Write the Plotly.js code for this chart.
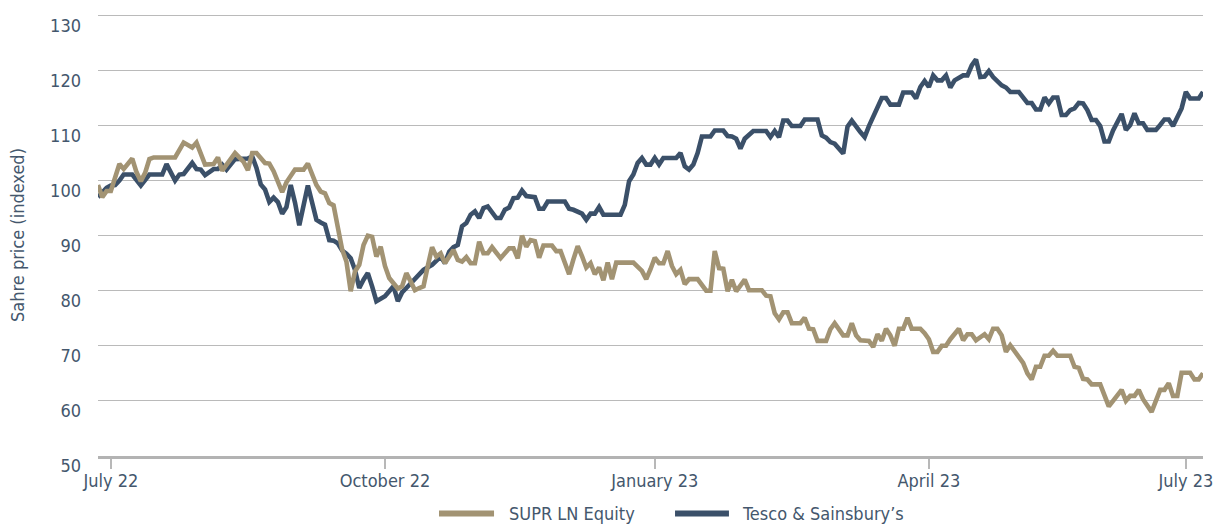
<!DOCTYPE html>
<html>
<head>
<meta charset="utf-8">
<script src="https://cdn.plot.ly/plotly-3.0.1.min.js"></script>
<style>html,body{margin:0;padding:0;background:#ffffff;}</style>
</head>
<body>
<div id="chart" style="width:1215px;height:524px;"></div>
<script>
// ---- Data (trading days, indexed share price) ----
const supr_dates = [
'2022-06-28','2022-06-29','2022-06-30','2022-07-01','2022-07-05','2022-07-06','2022-07-08','2022-07-11','2022-07-12','2022-07-13',
'2022-07-14','2022-07-15','2022-07-22','2022-07-26','2022-07-28','2022-07-29','2022-08-02','2022-08-04','2022-08-05','2022-08-08',
'2022-08-11','2022-08-15','2022-08-16','2022-08-17','2022-08-18','2022-08-22','2022-08-23','2022-08-24','2022-08-26','2022-08-30',
'2022-09-01','2022-09-05','2022-09-06','2022-09-07','2022-09-08','2022-09-09','2022-09-12','2022-09-13','2022-09-14','2022-09-15',
'2022-09-16','2022-09-20','2022-09-21','2022-09-22','2022-09-23','2022-09-26','2022-09-27','2022-09-28','2022-09-29','2022-09-30',
'2022-10-03','2022-10-04','2022-10-05','2022-10-06','2022-10-07','2022-10-10','2022-10-11','2022-10-12','2022-10-13','2022-10-14',
'2022-10-17','2022-10-18','2022-10-19','2022-10-20','2022-10-21','2022-10-24','2022-10-25','2022-10-26','2022-10-27','2022-10-28',
'2022-10-31','2022-11-01','2022-11-02','2022-11-03','2022-11-04','2022-11-07','2022-11-09','2022-11-10','2022-11-11','2022-11-14',
'2022-11-15','2022-11-16','2022-11-17','2022-11-18','2022-11-21','2022-11-22','2022-11-23','2022-11-25','2022-11-28','2022-11-29',
'2022-11-30','2022-12-01','2022-12-02','2022-12-05','2022-12-06','2022-12-07','2022-12-08','2022-12-09','2022-12-12','2022-12-13',
'2022-12-14','2022-12-15','2022-12-16','2022-12-22','2022-12-28','2022-12-29','2022-12-30','2023-01-03','2023-01-04','2023-01-05',
'2023-01-06','2023-01-09','2023-01-10','2023-01-11','2023-01-12','2023-01-13','2023-01-17','2023-01-18','2023-01-19','2023-01-20',
'2023-01-23','2023-01-24','2023-01-25','2023-01-26','2023-01-27','2023-01-30','2023-02-01','2023-02-02','2023-02-07','2023-02-08',
'2023-02-09','2023-02-10','2023-02-13','2023-02-14','2023-02-15','2023-02-16','2023-02-20','2023-02-21','2023-02-22','2023-02-23',
'2023-02-24','2023-02-28','2023-03-01','2023-03-02','2023-03-03','2023-03-06','2023-03-07','2023-03-08','2023-03-09','2023-03-10',
'2023-03-14','2023-03-15','2023-03-16','2023-03-17','2023-03-20','2023-03-21','2023-03-22','2023-03-23','2023-03-24','2023-03-27',
'2023-03-28','2023-03-30','2023-03-31','2023-04-03','2023-04-04','2023-04-05','2023-04-06','2023-04-11','2023-04-12','2023-04-14',
'2023-04-17','2023-04-18','2023-04-19','2023-04-20','2023-04-24','2023-04-25','2023-04-26','2023-04-27','2023-04-28','2023-05-02',
'2023-05-03','2023-05-09','2023-05-10','2023-05-11','2023-05-12','2023-05-15','2023-05-16','2023-05-17','2023-05-18','2023-05-19',
'2023-05-24','2023-05-25','2023-05-26','2023-05-30','2023-05-31','2023-06-01','2023-06-05','2023-06-07','2023-06-12','2023-06-13',
'2023-06-14','2023-06-15','2023-06-16','2023-06-19','2023-06-21','2023-06-23','2023-06-26','2023-06-27','2023-06-28','2023-06-29',
'2023-06-30','2023-07-04','2023-07-05','2023-07-06','2023-07-07'
];
const supr_values = [
99.2,97.0,98.1,98.1,103.0,102.1,104.0,101.5,99.9,101.4,
103.9,104.2,104.2,106.9,106.0,106.9,102.9,103.0,104.2,101.8,
105.0,103.4,101.9,105.0,105.0,103.2,103.1,101.7,97.9,99.7,
102.0,102.0,103.1,101.3,99.2,98.0,97.7,95.9,95.5,91.5,
87.5,85.3,79.9,83.5,84.7,88.3,90.0,89.8,86.2,88.0,
84.5,82.3,81.4,80.4,80.8,83.2,81.7,80.1,80.5,80.8,
84.5,87.9,86.2,86.8,85.0,86.2,87.4,85.6,85.3,86.1,
85.0,85.0,88.9,86.8,86.8,87.9,85.9,86.8,87.7,87.7,
85.9,90.0,88.0,89.2,89.0,86.0,88.2,88.2,87.2,87.2,
85.0,83.0,85.7,88.1,86.3,84.2,85.0,83.0,84.2,81.9,
85.1,82.1,85.1,85.1,83.6,82.1,83.9,86.0,85.0,85.0,
87.2,84.5,83.0,83.8,81.2,82.1,82.1,81.2,80.0,80.0,
87.2,84.1,84.0,79.9,82.0,79.9,82.0,80.1,80.1,79.1,
79.0,75.9,74.8,76.1,76.1,74.1,74.1,75.1,73.1,73.0,
70.9,70.9,73.0,74.1,73.1,71.9,71.9,74.1,71.9,71.0,
70.9,69.8,72.1,70.9,73.1,71.9,70.0,73.1,73.1,75.1,
73.1,73.1,72.3,71.2,68.9,68.9,70.0,70.0,71.2,73.1,
71.0,72.1,72.1,71.0,72.1,71.2,73.1,73.1,71.9,68.9,
70.1,66.9,65.0,63.9,66.2,66.2,68.2,68.2,69.1,68.2,
68.2,66.2,66.0,64.0,63.9,63.0,63.0,59.0,62.0,60.0,
60.9,60.9,62.0,60.3,58.0,62.0,62.0,63.2,60.9,60.9,
65.1,65.1,63.9,63.9,65.0
];

const tesco_dates = [
'2022-06-28','2022-06-30','2022-07-01','2022-07-04','2022-07-05','2022-07-06','2022-07-08','2022-07-12','2022-07-14','2022-07-19',
'2022-07-20','2022-07-22','2022-07-25','2022-07-26','2022-07-28','2022-07-29','2022-08-01','2022-08-02','2022-08-04','2022-08-05',
'2022-08-08','2022-08-09','2022-08-11','2022-08-15','2022-08-16','2022-08-17','2022-08-18','2022-08-19','2022-08-22','2022-08-23',
'2022-08-24','2022-08-25','2022-08-26','2022-08-30','2022-08-31','2022-09-01','2022-09-02','2022-09-06','2022-09-07','2022-09-08',
'2022-09-09','2022-09-12','2022-09-13','2022-09-14','2022-09-15','2022-09-16','2022-09-20','2022-09-21','2022-09-22','2022-09-23',
'2022-09-26','2022-09-27','2022-09-28','2022-09-29','2022-10-03','2022-10-04','2022-10-05','2022-10-06','2022-10-07','2022-10-10',
'2022-10-11','2022-10-12','2022-10-13','2022-10-14','2022-10-18','2022-10-19','2022-10-20','2022-10-21','2022-10-24','2022-10-25',
'2022-10-26','2022-10-27','2022-10-28','2022-10-31','2022-11-01','2022-11-02','2022-11-03','2022-11-04','2022-11-07','2022-11-08',
'2022-11-09','2022-11-10','2022-11-11','2022-11-14','2022-11-15','2022-11-16','2022-11-17','2022-11-21','2022-11-22','2022-11-23',
'2022-11-24','2022-11-30','2022-12-01','2022-12-02','2022-12-06','2022-12-07','2022-12-08','2022-12-09','2022-12-12','2022-12-13',
'2022-12-19','2022-12-20','2022-12-21','2022-12-22','2022-12-23','2022-12-28','2022-12-29','2022-12-30','2023-01-03','2023-01-04',
'2023-01-05','2023-01-10','2023-01-11','2023-01-12','2023-01-13','2023-01-16','2023-01-17','2023-01-18','2023-01-20','2023-01-23',
'2023-01-25','2023-01-26','2023-01-27','2023-01-30','2023-01-31','2023-02-01','2023-02-03','2023-02-08','2023-02-09','2023-02-10',
'2023-02-13','2023-02-14','2023-02-15','2023-02-16','2023-02-20','2023-02-21','2023-02-24','2023-02-27','2023-02-28','2023-03-01',
'2023-03-02','2023-03-06','2023-03-07','2023-03-08','2023-03-10','2023-03-13','2023-03-14','2023-03-16','2023-03-17','2023-03-20',
'2023-03-21','2023-03-23','2023-03-24','2023-03-28','2023-03-29','2023-03-30','2023-03-31','2023-04-03','2023-04-04','2023-04-05',
'2023-04-06','2023-04-11','2023-04-12','2023-04-13','2023-04-17','2023-04-18','2023-04-19','2023-04-20','2023-04-21','2023-04-24',
'2023-04-25','2023-04-26','2023-04-28','2023-05-02','2023-05-03','2023-05-05','2023-05-09','2023-05-10','2023-05-11','2023-05-12',
'2023-05-15','2023-05-16','2023-05-17','2023-05-18','2023-05-19','2023-05-22','2023-05-23','2023-05-24','2023-05-25','2023-05-26',
'2023-05-30','2023-05-31','2023-06-01','2023-06-02','2023-06-05','2023-06-06','2023-06-07','2023-06-08','2023-06-12','2023-06-13',
'2023-06-14','2023-06-15','2023-06-16','2023-06-19','2023-06-20','2023-06-22','2023-06-23','2023-06-26','2023-06-27','2023-06-28',
'2023-06-30','2023-07-03','2023-07-04','2023-07-06','2023-07-07'
];
const tesco_values = [
97.0,98.7,99.1,99.2,100.0,101.1,101.1,99.1,101.1,101.1,
103.0,100.0,101.1,101.2,103.2,102.1,102.0,101.0,102.1,102.1,
102.9,102.0,103.9,104.0,104.0,104.4,102.3,99.3,98.4,96.1,
96.9,96.1,94.0,95.2,99.2,96.0,91.9,99.1,95.9,92.9,
92.4,92.0,89.2,89.1,88.6,87.3,86.7,85.9,83.8,80.5,
82.0,83.2,80.8,78.1,79.0,79.9,80.8,78.1,79.7,80.5,
81.4,82.1,82.9,83.8,84.7,85.6,86.2,85.0,87.1,87.9,
88.3,91.7,92.3,93.8,94.4,93.2,95.0,95.3,94.1,93.2,
93.2,94.7,95.1,96.8,96.9,98.2,97.2,97.0,94.9,94.9,
96.2,96.2,94.9,94.7,94.0,92.9,94.0,94.0,95.2,93.8,
93.8,95.6,99.9,101.1,103.2,104.1,102.9,102.9,104.1,102.9,
104.1,104.1,105.0,102.6,102.0,102.9,105.0,108.0,108.0,109.1,
109.1,108.1,108.0,107.6,105.8,107.6,109.0,109.0,107.9,109.0,
107.9,110.9,110.9,109.9,109.9,111.1,111.1,108.2,107.8,107.0,
106.7,104.9,109.8,110.9,108.8,107.9,109.9,113.4,115.0,115.0,
113.8,113.8,116.0,116.0,114.9,117.0,118.1,117.0,119.1,118.2,
118.2,119.1,116.9,118.2,119.1,119.1,120.9,122.0,118.8,118.9,
119.9,118.8,117.3,116.9,116.1,116.1,115.1,114.1,114.1,112.9,
112.9,115.1,114.0,115.1,115.1,111.9,111.9,112.8,113.1,114.1,
114.0,112.8,111.0,111.0,109.9,107.1,107.1,109.1,112.1,109.2,
110.1,112.2,110.4,110.4,109.2,109.2,110.1,111.1,111.1,109.9,
113.1,116.1,114.9,114.9,116.1
];

const series_names = ['SUPR LN Equity', 'Tesco & Sainsbury\u2019s'];
const tick_dates = ['2022-07-01','2022-10-03','2023-01-03','2023-04-03','2023-07-03'];
const tick_labels = ['July 22','October 22','January 23','April 23','July 23'];
const y_ticks = [50,60,70,80,90,100,110,120,130];
const uk_market_holidays = ['2022-08-29','2022-09-19','2022-12-26','2022-12-27','2023-01-02',
                            '2023-04-07','2023-04-10','2023-05-01','2023-05-08','2023-05-29'];

// ---- Styling ----
const TAN = '#a29373';
const NAVY = '#3b5069';
const TEXT = '#44576d';
const GRID = '#bababa';
const FONT = '"DejaVu Sans Condensed", "Liberation Sans Narrow", "Noto Sans", sans-serif';

const traces = [
  {x: tesco_dates, y: tesco_values, name: series_names[1], type: 'scatter', mode: 'lines',
   line: {color: NAVY, width: 4.6, shape: 'linear'}, showlegend: false, hoverinfo: 'x+y+name'},
  {x: supr_dates, y: supr_values, name: series_names[0], type: 'scatter', mode: 'lines',
   line: {color: TAN, width: 4.6, shape: 'linear'}, showlegend: false, hoverinfo: 'x+y+name'}
];

// custom legend (line swatch + text) below the axis
const legendItems = [
  {name: series_names[0], color: TAN, x0: 0.3086, x1: 0.3584, tx: 0.3701},
  {name: series_names[1], color: NAVY, x0: 0.5222, x1: 0.5710, tx: 0.5810}
];
const legY = -0.130;

const layout = {
  width: 1215, height: 524,
  margin: {l: 98, r: 12, t: 14, b: 68, pad: 0},
  paper_bgcolor: '#ffffff', plot_bgcolor: '#ffffff',
  font: {family: FONT, size: 18, color: TEXT},
  showlegend: false,
  xaxis: {
    type: 'date',
    range: ['2022-06-28', '2023-07-07'],
    rangebreaks: [{bounds: ['sat', 'mon']}, {values: uk_market_holidays}],
    tickmode: 'array', tickvals: tick_dates, ticktext: tick_labels,
    ticks: 'outside', ticklen: 10, tickwidth: 1.5, tickcolor: '#b8b8b8',
    ticklabelstandoff: -4,
    showgrid: false, zeroline: false,
    showline: true, linecolor: '#b3b3b3', linewidth: 3,
    tickfont: {family: FONT, size: 18, color: TEXT},
    automargin: false, fixedrange: true
  },
  yaxis: {
    range: [49.99, 130.25],
    tickmode: 'array', tickvals: y_ticks,
    showgrid: true, gridcolor: GRID, gridwidth: 1.2,
    zeroline: false, showline: false, ticks: '',
    ticklabelstandoff: 16, ticklabelshift: 10,
    tickfont: {family: FONT, size: 18, color: TEXT},
    title: {text: 'Sahre price (indexed)', font: {family: FONT, size: 18, color: TEXT}, standoff: 20},
    automargin: false, fixedrange: true
  },
  shapes: legendItems.map(it => ({
    type: 'line', xref: 'paper', yref: 'paper',
    x0: it.x0, x1: it.x1, y0: legY, y1: legY,
    line: {color: it.color, width: 6}
  })),
  annotations: legendItems.map(it => ({
    xref: 'paper', yref: 'paper', x: it.tx, y: legY,
    xanchor: 'left', yanchor: 'middle', showarrow: false,
    text: it.name, font: {family: FONT, size: 18, color: TEXT}
  }))
};

Plotly.newPlot('chart', traces, layout, {displayModeBar: false, staticPlot: true});
</script>
</body>
</html>
